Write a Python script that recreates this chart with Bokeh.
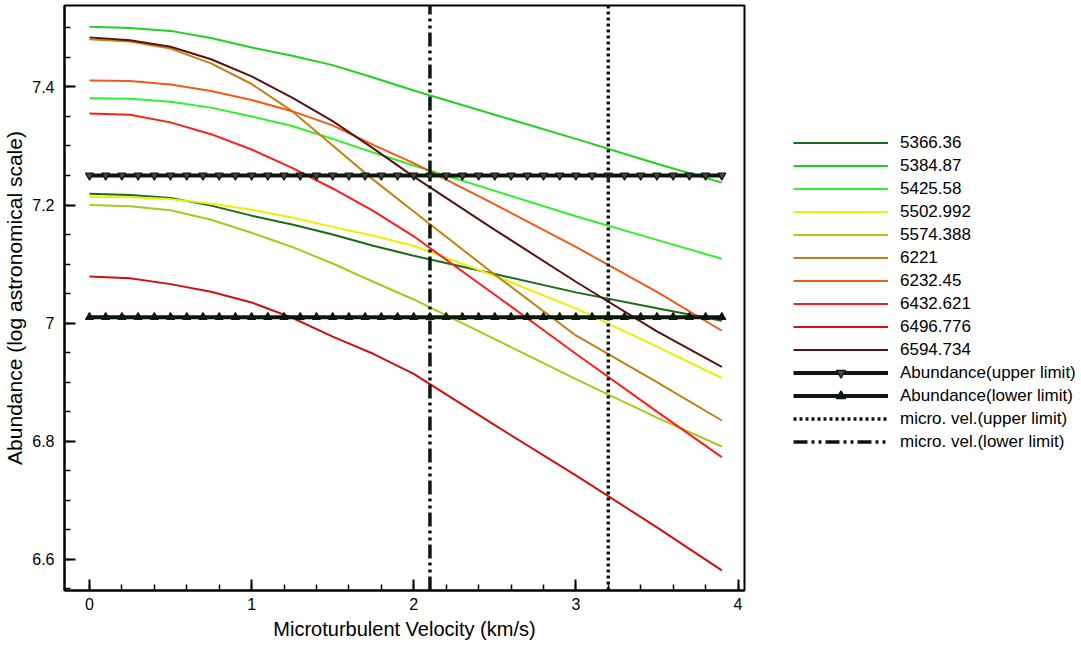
from bokeh.plotting import figure
from bokeh.models import Legend, LegendItem, FixedTicker, Range1d
from bokeh.embed import file_html
from bokeh.resources import INLINE

# ---- data ----
velocity = [0, 0.25, 0.5, 0.75, 1.0, 1.25, 1.5, 1.75, 2.0, 2.5, 3.0, 3.5, 3.9]

line_names = ["5366.36", "5384.87", "5425.58", "5502.992", "5574.388",
              "6221", "6232.45", "6432.621", "6496.776", "6594.734"]

ab_5366_36  = [7.219, 7.217, 7.212, 7.199, 7.182, 7.167, 7.150, 7.131, 7.114, 7.083, 7.052, 7.025, 7.004]
ab_5384_87  = [7.502, 7.500, 7.495, 7.483, 7.467, 7.453, 7.437, 7.416, 7.394, 7.353, 7.312, 7.270, 7.238]
ab_5425_58  = [7.381, 7.380, 7.375, 7.365, 7.350, 7.334, 7.312, 7.289, 7.267, 7.224, 7.181, 7.141, 7.109]
ab_5502_992 = [7.214, 7.213, 7.210, 7.202, 7.192, 7.179, 7.163, 7.148, 7.131, 7.080, 7.025, 6.960, 6.907]
ab_5574_388 = [7.200, 7.198, 7.191, 7.175, 7.153, 7.129, 7.101, 7.070, 7.040, 6.973, 6.905, 6.840, 6.791]
ab_6221     = [7.481, 7.477, 7.465, 7.440, 7.405, 7.359, 7.301, 7.243, 7.189, 7.082, 6.979, 6.900, 6.835]
ab_6232_45  = [7.411, 7.410, 7.404, 7.393, 7.378, 7.359, 7.335, 7.302, 7.271, 7.201, 7.129, 7.053, 6.987]
ab_6432_621 = [7.355, 7.353, 7.340, 7.320, 7.294, 7.263, 7.228, 7.190, 7.147, 7.048, 6.948, 6.850, 6.773]
ab_6496_776 = [7.079, 7.076, 7.066, 7.053, 7.035, 7.009, 6.977, 6.948, 6.914, 6.827, 6.742, 6.654, 6.581]
ab_6594_734 = [7.484, 7.479, 7.468, 7.447, 7.418, 7.382, 7.342, 7.296, 7.248, 7.158, 7.070, 6.986, 6.926]

series = [ab_5366_36, ab_5384_87, ab_5425_58, ab_5502_992, ab_5574_388,
          ab_6221, ab_6232_45, ab_6432_621, ab_6496_776, ab_6594_734]

colors = ["#186c18", "#22d022", "#30f02a", "#eeee00", "#a8c81e",
          "#c08012", "#f05a16", "#ff1c1c", "#cc1212", "#5a1212"]

abundance_upper = 7.25
abundance_lower = 7.01
vel_upper = 3.2
vel_lower = 2.1
limit_marker_x = [round(i * 0.1, 1) for i in range(40)]

x_ticks = [0, 1, 2, 3, 4]
y_ticks = [6.6, 6.8, 7.0, 7.2, 7.4]

# ---- figure ----
FONT = "Liberation Sans"
y_lo, y_hi = 6.547, 7.538
p = figure(frame_width=680, frame_height=585, output_backend="svg",
           toolbar_location=None,
           x_range=Range1d(-0.154, 4.04), y_range=Range1d(y_lo, y_hi),
           min_border_left=58, min_border_right=0, min_border_top=5,
           min_border_bottom=48)
p.grid.visible = False
p.background_fill_color = "white"
p.border_fill_color = "white"
p.outline_line_color = "black"
p.outline_line_width = 2

items = []
for name, ys, c in zip(line_names, series, colors):
    r = p.line(velocity, ys, line_color=c, line_width=2)
    items.append(LegendItem(label=name, renderers=[r]))

lim_color = "#0c180c"
n = len(limit_marker_x)
ru = p.line(limit_marker_x, [abundance_upper] * n, line_color=lim_color, line_width=4)
su = p.scatter(limit_marker_x, [abundance_upper] * n, marker="inverted_triangle",
               size=8, fill_color="#444444", line_color=lim_color, line_width=1.2)
rl = p.line(limit_marker_x, [abundance_lower] * n, line_color=lim_color, line_width=4)
sl = p.scatter(limit_marker_x, [abundance_lower] * n, marker="triangle",
               size=8, fill_color=lim_color, line_color=lim_color, line_width=1.2)
items.append(LegendItem(label="Abundance(upper limit)", renderers=[ru, su]))
items.append(LegendItem(label="Abundance(lower limit)", renderers=[rl, sl]))

rvu = p.line([vel_upper, vel_upper], [y_lo, y_hi], line_color=lim_color,
             line_width=3.5, line_dash="3 3")
rvl = p.line([vel_lower, vel_lower], [y_lo, y_hi], line_color=lim_color,
             line_width=3.5, line_dash="14 4 3 4 3 4")
items.append(LegendItem(label="micro. vel.(upper limit)", renderers=[rvu]))
items.append(LegendItem(label="micro. vel.(lower limit)", renderers=[rvl]))

# ---- axes ----
for ax in (p.xaxis[0], p.yaxis[0]):
    ax.axis_line_width = 2
    ax.axis_line_color = "black"
    ax.major_tick_in = 11
    ax.major_tick_out = 0
    ax.minor_tick_in = 6
    ax.minor_tick_out = 0
    ax.major_tick_line_width = 2
    ax.minor_tick_line_width = 1.5
    ax.major_label_text_font = FONT
    ax.major_label_text_font_size = "16px"
    ax.major_label_text_color = "black"
    ax.axis_label_text_font = FONT
    ax.axis_label_text_font_style = "normal"
    ax.axis_label_text_color = "black"

p.xaxis.axis_label_text_font_size = "20px"
p.yaxis.axis_label_text_font_size = "21px"
p.xaxis.ticker = FixedTicker(ticks=x_ticks,
                             minor_ticks=[round(i * 0.2, 1) for i in range(0, 21)])
p.yaxis.ticker = FixedTicker(ticks=y_ticks,
                             minor_ticks=[round(6.55 + i * 0.05, 2) for i in range(20)])
p.yaxis.major_label_overrides = {7: "7"}
p.xaxis.axis_label = "Microturbulent Velocity (km/s)"
p.yaxis.axis_label = "Abundance (log astronomical scale)"
p.xaxis.major_label_standoff = 7
p.yaxis.major_label_standoff = 10
p.xaxis.axis_label_standoff = 5
p.yaxis.axis_label_standoff = 3

legend = Legend(items=items, location=(49, 137), orientation="vertical",
                border_line_color=None, background_fill_alpha=0,
                glyph_width=95, glyph_height=23, label_height=23,
                label_standoff=12, spacing=0, padding=0, margin=0,
                label_text_font=FONT, label_text_font_size="17px",
                label_text_color="black")
p.add_layout(legend, "right")

open("out.html", "w").write(file_html(p, INLINE))
